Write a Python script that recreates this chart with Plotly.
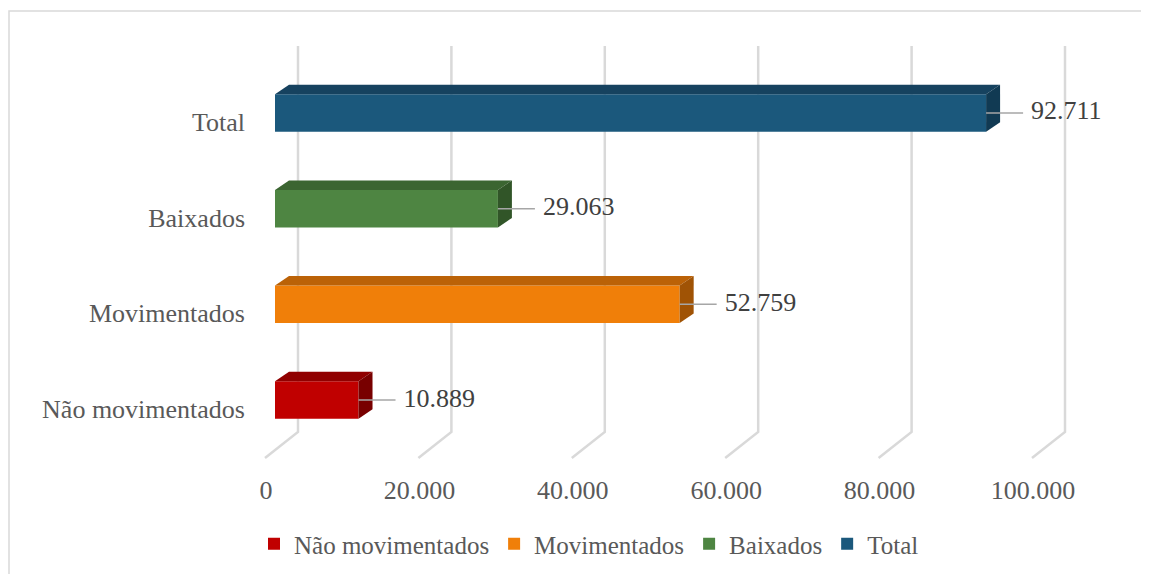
import plotly.graph_objects as go

# ---- data ----
categories = ["Não movimentados", "Movimentados", "Baixados", "Total"]
values = [10889, 52759, 29063, 92711]
value_labels = ["10.889", "52.759", "29.063", "92.711"]
x_ticks = [0, 20000, 40000, 60000, 80000, 100000]
x_tick_labels = ["0", "20.000", "40.000", "60.000", "80.000", "100.000"]

front_colors = ["#c00000", "#f07f09", "#4e8542", "#1b587c"]
top_colors = ["#900000", "#bb6207", "#3b6531", "#16425f"]
side_colors = ["#780000", "#a05305", "#315528", "#113a53"]

# ---- geometry (pixel layout -> data units) ----
OFF = 8                           # page body margin
W, H = 1149 - OFF, 574 - OFF
L_PX, R_PX, T_PX, B_PX = 250 - OFF, 1120 - OFF, 40 - OFF, 467 - OFF
X0_PX = 275 - OFF                 # pixel of value 0 on front face
KX = 153.4 / 20000                # px per unit on x
Y0_PX = 400 - OFF                 # pixel of category 0
KY = 95.67                        # px per category step

def px_to_x(px):
    return (px - X0_PX) / KX

def dx(px):
    return px / KX

def py_to_y(py):
    return (Y0_PX - py) / KY

def dy(py):
    return py / KY

x_range = [px_to_x(L_PX), px_to_x(R_PX)]
y_range = [py_to_y(B_PX), py_to_y(T_PX)]

bar_w = 37.5 / KY
depth_x = dx(14)
depth_y = dy(9.5)
FONT = "Liberation Serif"

fig = go.Figure()

# gridlines (3D wall + floor) on the base axes
grid_top = py_to_y(46 - OFF)
grid_wall_bottom = py_to_y(432 - OFF)
grid_floor = py_to_y(458 - OFF)
for v in x_ticks:
    fig.add_trace(go.Scatter(
        x=[v + dx(23), v + dx(23), v - dx(10)],
        y=[grid_top, grid_wall_bottom, grid_floor],
        mode="lines", line=dict(color="#d9d9d9", width=2.5),
        hoverinfo="skip", showlegend=False, xaxis="x", yaxis="y"))

positions = list(range(len(categories)))

for i, (cat, v) in enumerate(zip(categories, values)):
    yc = positions[i]
    top = yc + bar_w / 2
    bot = yc - bar_w / 2
    # front face
    fig.add_trace(go.Bar(
        x=[v], y=[yc], base=0, orientation="h", width=bar_w,
        marker=dict(color=front_colors[i], line=dict(width=0)),
        name=cat, showlegend=True, hoverinfo="skip",
        xaxis="x2", yaxis="y2"))
    # top face
    fig.add_trace(go.Scatter(
        x=[0, v, v + depth_x, depth_x, 0],
        y=[top, top, top + depth_y, top + depth_y, top],
        mode="lines", fill="toself", fillcolor=top_colors[i],
        line=dict(width=0, color=top_colors[i]),
        hoverinfo="skip", showlegend=False, xaxis="x2", yaxis="y2"))
    # side face
    fig.add_trace(go.Scatter(
        x=[v, v + depth_x, v + depth_x, v, v],
        y=[top, top + depth_y, bot + depth_y, bot, top],
        mode="lines", fill="toself", fillcolor=side_colors[i],
        line=dict(width=0, color=side_colors[i]),
        hoverinfo="skip", showlegend=False, xaxis="x2", yaxis="y2"))
    # leader line
    fig.add_trace(go.Scatter(
        x=[v, v + dx(37)], y=[yc, yc],
        mode="lines", line=dict(color="#a6a6a6", width=1.5),
        hoverinfo="skip", showlegend=False, xaxis="x2", yaxis="y2"))
    # data label
    fig.add_trace(go.Scatter(
        x=[v + dx(45)], y=[yc], mode="text",
        text=[value_labels[i]], textposition="middle right",
        textfont=dict(family=FONT, size=26, color="#404040"),
        hoverinfo="skip", showlegend=False, xaxis="x2", yaxis="y2"))

fig.update_layout(
    width=W, height=H,
    margin=dict(l=L_PX, r=W - R_PX, t=T_PX, b=H - B_PX, autoexpand=False),
    paper_bgcolor="white", plot_bgcolor="white",
    barmode="overlay",
    font=dict(family=FONT, size=26, color="#595959"),
    xaxis=dict(range=x_range, showgrid=False, zeroline=False, showline=False,
               tickvals=[v - dx(9) for v in x_ticks], ticktext=x_tick_labels,
               ticks="", ticklabelstandoff=5, fixedrange=True),
    yaxis=dict(range=y_range, showgrid=False, zeroline=False, showline=False,
               tickvals=[p - dy(9) for p in positions], ticktext=categories,
               ticks="", ticklabelstandoff=4, fixedrange=True),
    xaxis2=dict(range=x_range, overlaying="x", visible=False, fixedrange=True),
    yaxis2=dict(range=y_range, overlaying="y", visible=False, fixedrange=True),
    legend=dict(orientation="h", xref="container", yref="container",
                x=(589 - OFF) / W, y=1 - (544 - OFF) / H,
                xanchor="center", yanchor="middle",
                font=dict(size=25, color="#595959"), itemwidth=30,
                traceorder="normal"),
    shapes=[dict(type="rect", xref="paper", yref="paper",
                 x0=(9 - OFF - L_PX) / (R_PX - L_PX),
                 x1=(1170 - L_PX) / (R_PX - L_PX),
                 y0=(B_PX - 600) / (B_PX - T_PX),
                 y1=(B_PX - (11 - OFF)) / (B_PX - T_PX),
                 line=dict(color="#d9d9d9", width=1.5), layer="below")],
)

fig.write_html("out.html")
